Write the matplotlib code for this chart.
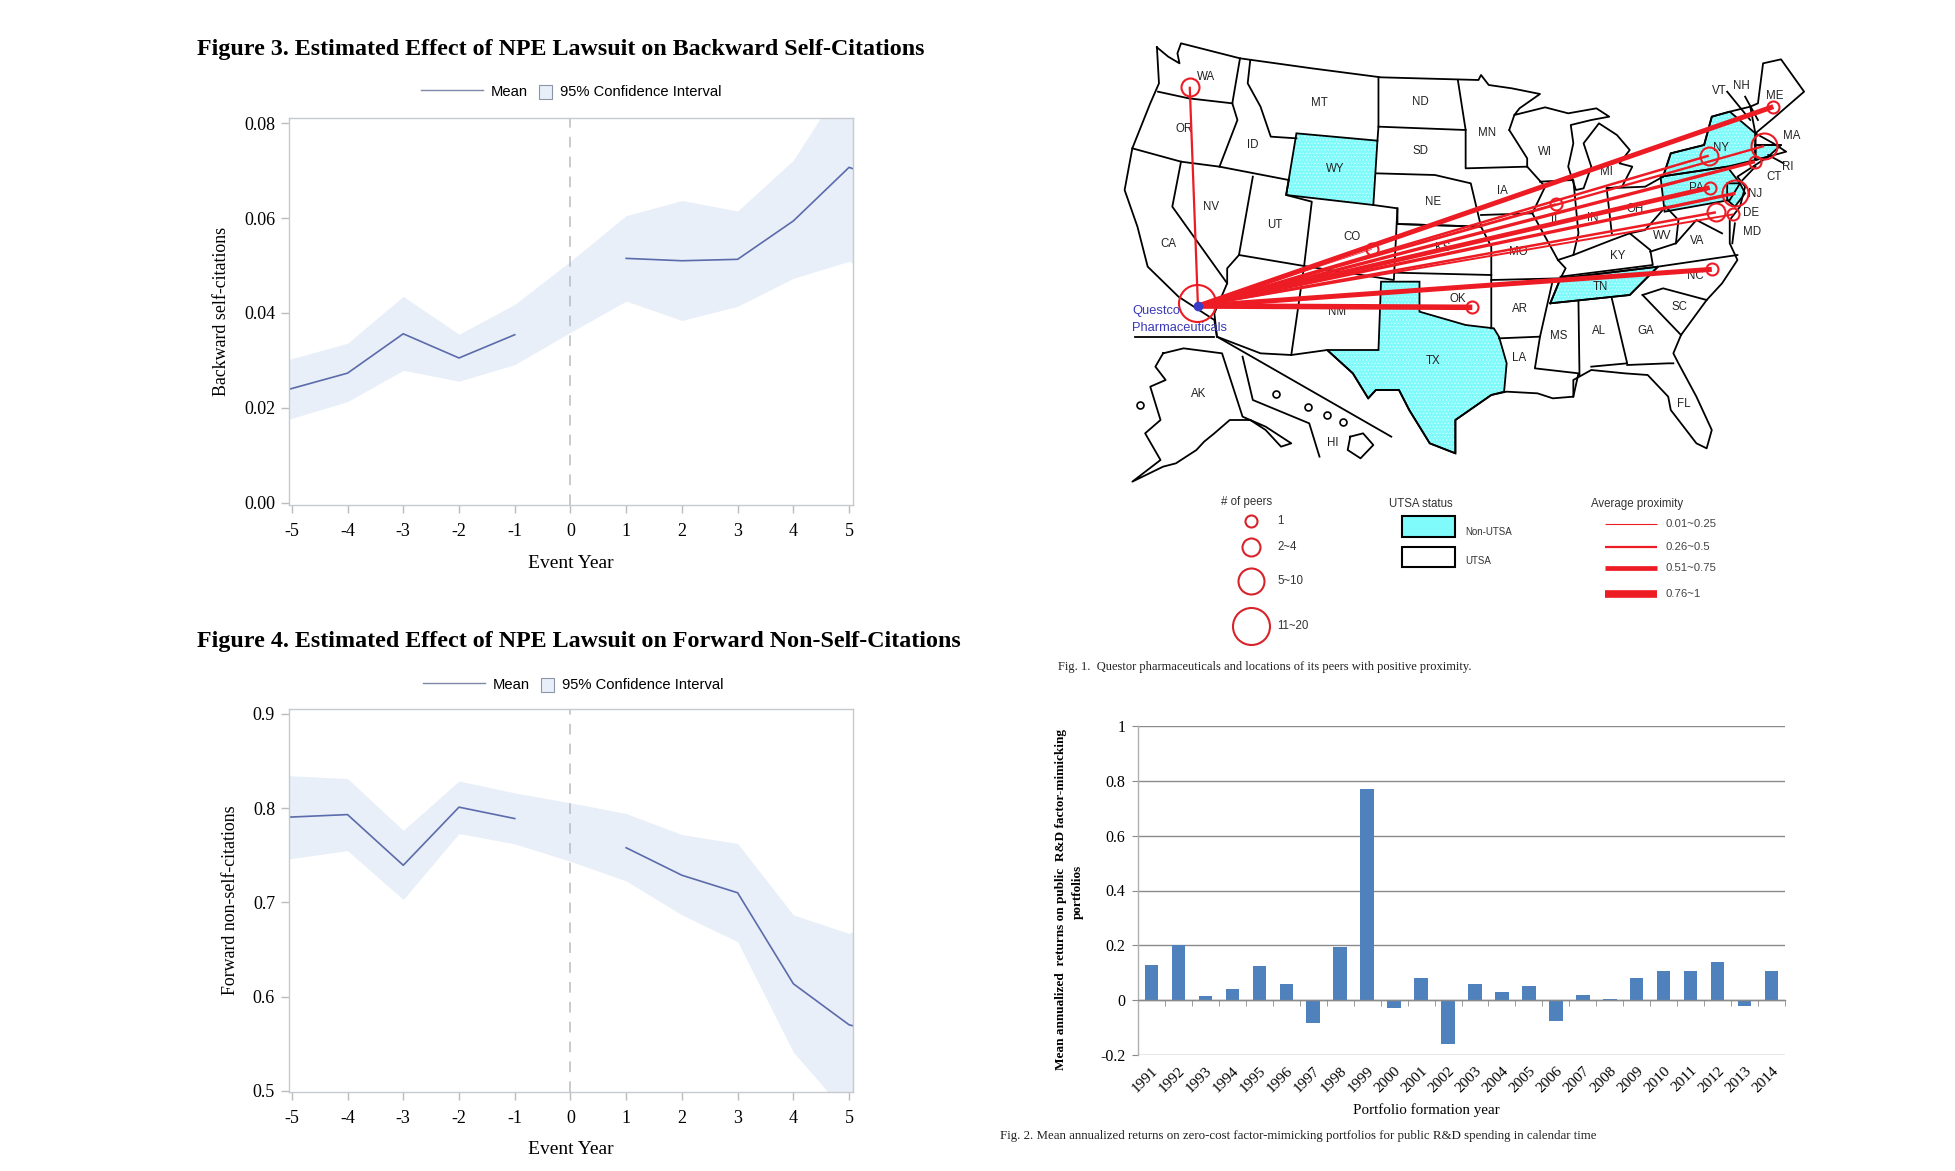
import matplotlib
matplotlib.use('Agg')
import matplotlib.pyplot as plt
from matplotlib.lines import Line2D
from matplotlib.patches import Polygon, Rectangle

W, H = 1955, 1171
SERIF = 'Liberation Serif'
SANS = 'Liberation Sans'

# Figure 3
years_3 = [-5.05, -4, -3, -2, -1, 0, 1, 2, 3, 4, 5, 5.07]
upper_3 = [0.0302, 0.0336, 0.0435, 0.0355, 0.0418, 0.0509, 0.0605, 0.0637, 0.0615, 0.0722, 0.0905, 0.0915]
lower_3 = [0.0176, 0.0213, 0.0279, 0.0256, 0.0291, 0.0359, 0.0425, 0.0384, 0.0414, 0.0473, 0.0509, 0.0505]
pre_x = [-5.05, -4, -3, -2, -1]
post_x = [1, 2, 3, 4, 5, 5.07]
pre_3 = [0.0239, 0.0273, 0.0356, 0.0305, 0.0354]
post_3 = [0.0515, 0.0510, 0.0513, 0.0594, 0.0707, 0.0704]

# Figure 4
upper_4 = [0.8345, 0.8315, 0.7765, 0.8288, 0.8163, 0.8057, 0.7943, 0.7720, 0.7625, 0.6867, 0.667, 0.669]
lower_4 = [0.7462, 0.7549, 0.7031, 0.7731, 0.7621, 0.7436, 0.7228, 0.6867, 0.6583, 0.541, 0.473, 0.47]
pre_4 = [0.7905, 0.7932, 0.7394, 0.8011, 0.789]
post_4 = [0.758, 0.7288, 0.7102, 0.6136, 0.570, 0.569]

# Fig. 2 bars
bar_years = list(range(1991, 2015))
bar_values = [0.13, 0.2, 0.015, 0.04, 0.125, 0.06, -0.085, 0.195, 0.77, -0.028, 0.082, -0.16,
              0.058, 0.03, 0.05, -0.075, 0.018, 0.004, 0.08, 0.108, 0.108, 0.14, -0.02, 0.105]

# Map, all in the map axes' own units
outline = [(228,82),(250,110),(272,130),(268,100),(275,70),(390,115),(530,145),(665,172),(855,180),(860,165),
           (875,195),(920,205),(975,222),(935,265),(925,285),(985,262),(1030,280),(1085,265),(1110,290),(1075,300),
           (1035,315),(1040,370),(1030,440),(1045,510),(1060,505),(1075,440),(1060,370),(1090,310),(1125,345),(1150,390),
           (1130,430),(1155,440),(1135,500),(1105,505),(1180,500),(1215,470),(1230,400),(1295,375),(1310,290),(1345,275),
           (1385,260),(1400,250),(1410,130),(1445,118),(1490,215),(1430,295),(1395,340),(1430,370),(1455,395),(1420,410),
           (1360,470),(1375,500),(1365,560),(1345,600),(1345,670),(1360,720),(1330,790),(1300,840),(1250,945),(1235,1000),
           (1245,1030),(1280,1130),(1310,1230),(1300,1285),(1280,1270),(1230,1170),(1225,1130),(1185,1065),(1140,1060),(1075,1050),
           (1040,1080),(1040,1130),(1000,1135),(970,1120),(910,1115),(880,1125),(810,1200),(810,1300),(760,1270),(720,1170),
           (700,1110),(655,1110),(640,1135),(610,1060),(560,990),(490,1005),(430,1000),(345,950),(340,900),(270,830),
           (210,740),(190,620),(165,510),(180,385),(215,250),(232,190),(228,82)]
borders = [
    [(230,215),(290,235),(375,250)], [(390,115),(375,250),(385,300),(350,440)],
    [(180,385),(275,425),(350,440),(485,480)], [(410,120),(405,190),(430,260),(450,350),(500,355)],
    [(275,425),(258,560),(365,790),(340,880),(345,950)], [(415,470),(388,705),(365,745),(365,790)],
    [(388,705),(515,738)], [(515,738),(490,1005)], [(485,480),(480,525),(530,545),(515,738)],
    [(660,172),(660,320),(658,362)], [(660,320),(830,330)], [(815,182),(830,330),(830,445),(950,440)],
    [(655,460),(770,465),(840,490),(860,620)], [(650,555),(697,565),(697,612),(860,620)], [(860,585),(960,580)],
    [(950,440),(985,500),(960,580),(1010,720),(1025,745),(1015,775),(880,780)], [(915,330),(950,415),(950,440)],
    [(925,285),(915,330)], [(697,565),(690,780),(515,738)], [(697,612),(860,620),(880,680),(880,925)], [(692,758),(880,765)],
    [(895,955),(975,950),(1000,780)], [(975,950),(965,1045),(1050,1060),(1040,1130)], [(995,850),(1150,825),(1205,740),(1045,770),(1015,775),(995,850)],
    [(1050,845),(1052,1065)], [(1115,835),(1145,1030),(1075,1040)], [(1145,1035),(1225,1030),(1235,1030)],
    [(1175,825),(1215,805),(1300,840)], [(1175,825),(1250,945)], [(1205,740),(1360,705)], [(1015,770),(1195,735),(1190,690),(1150,640),(1115,660),(1040,705),(1010,720)],
    [(975,485),(1040,480),(1050,640),(1040,705)], [(1105,505),(1115,640)], [(1220,560),(1180,630),(1150,640)],
    [(1220,560),(1245,600),(1240,670),(1190,695)], [(1240,670),(1280,600),(1330,640)],
    [(1385,260),(1395,340),(1395,420)], [(1395,375),(1445,375)], [(1395,420),(1420,410)],
    [(1340,215),(1385,300)], [(1375,230),(1400,300)], [(1420,405),(1450,430)], [(1395,440),(1370,480)], [(1355,610),(1350,670)],
    [(345,950),(685,1250)], [(395,1010),(415,1140),(525,1210),(545,1310)],
    [(185,950),(340,950)],
]
alaska = [(240,1000),(280,985),(355,1000),(395,1190),(440,1220),(490,1270),(470,1280),(440,1230),(410,1200),(370,1200),(340,1240),(320,1265),(305,1290),(265,1330),(240,1340),(180,1385),
          (235,1320),(205,1240),(235,1200),(215,1100),(245,1080),(225,1040),(240,1000)]
hawaii = [(605,1250),(630,1240),(650,1275),(625,1315),(600,1290),(605,1250)]
island_x = [460, 522, 560, 590, 195]
island_y = [1122, 1160, 1185, 1205, 1155]
cyan_states = {
    'WY': [(500,340),(658,362),(650,555),(480,525)],
    'TX': [(665,785),(740,785),(740,875),(830,915),(885,925),(895,950),(910,1030),(905,1115),(880,1125),(810,1200),(810,1300),
           (760,1270),(720,1170),(700,1110),(655,1110),(640,1135),(610,1060),(560,990),(660,990)],
    'TN': [(995,850),(1150,825),(1205,740),(1045,770),(1015,775)],
    'NY': [(1230,400),(1295,375),(1310,290),(1345,275),(1395,340),(1395,420),(1340,440),(1210,470),(1215,470)],
    'PA': [(1210,470),(1340,440),(1365,490),(1345,540),(1218,575)],
    'MA': [(1395,375),(1445,375),(1420,410),(1395,420)],
    'NJ': [(1340,490),(1365,490),(1375,520),(1355,560),(1340,540)],
}
state_names = ['WA','OR','ID','MT','WY','ND','SD','NE','MN','IA','WI','MI','IL','IN','OH','NV','CA','UT','CO','KS','MO','KY',
               'WV','VA','NM','OK','AR','TN','NC','SC','MS','AL','GA','LA','TX','FL','AK','HI','NY','PA','VT','NH','ME','MA','RI','CT','NJ','DE','MD']
state_x = [324,282,415,545,575,742,742,766,872,902,985,1105,1005,1078,1160,333,250,457,608,786,932,1126,
           1213,1282,580,815,935,1092,1278,1247,1012,1090,1182,935,766,1255,310,570,1328,1280,1325,1367,1432,1465,1458,1431,1395,1387,1388]
state_y = [172,328,375,250,447,247,393,546,338,514,397,455,600,595,567,560,673,614,651,684,697,708,
           649,662,875,836,866,800,768,862,947,933,932,1013,1024,1152,1122,1268,384,503,212,198,228,349,441,470,523,580,637]
origin = (308, 858)
peer_x = [292,647,1006,1304,1306,1412,1394,1356,1318,1352,1310,1430,843]
peer_y = [200,688,552,407,503,378,425,520,577,583,748,260,862]
peer_size = [18,12,12,18,12,26,12,26,18,12,12,12,12]
peer_width = [1.6,0.5,1.3,1.8,3.4,1.7,2.4,2.4,1.8,1.4,3.6,3.6,4.0]
legend_peer = ['1','2~4','5~10','11~20']
legend_peer_y = [122,200,302,437]
legend_peer_size = [12,18,26,37]
legend_prox = ['0.01~0.25','0.26~0.5','0.51~0.75','0.76~1']
legend_prox_y = [132,202,265,341]
legend_prox_width = [0.8,1.6,3.4,5.5]

plt.rcParams['font.family'] = SERIF
plt.rcParams['axes.linewidth'] = 1.0
plt.rcParams['axes.unicode_minus'] = False
plt.rcParams['hatch.linewidth'] = 0.5
fig = plt.figure(figsize=(W / 100, H / 100), dpi=100)


def px_axes(left, top, right, bottom):
    return fig.add_axes([left / W, 1 - bottom / H, (right - left) / W, (bottom - top) / H])


def fx(v):
    return v / W


def fy(v):
    return 1 - v / H


def event_panel(box, upper, lower, pre, post, ylim, yticks, fmt, ylabel, lx, ly, xpad):
    ax = px_axes(*box)
    band = '#e8eff8'
    ax.fill_between(years_3, lower, upper, color=band, lw=0)
    ax.plot(pre_x, pre, color='#5b6bab', lw=1.2)
    ax.plot(post_x, post, color='#5b6bab', lw=1.2)
    ax.axvline(0, color='#b9bcc0', lw=1.1, dashes=(7, 6))
    ax.set_xlim(-5.05, 5.07)
    ax.set_ylim(*ylim)
    ax.set_xticks(range(-5, 6))
    ax.set_yticks(yticks)
    ax.set_yticklabels([fmt % v for v in yticks])
    ax.tick_params(labelsize=13, color='#b9bcc0', length=6, width=1, pad=4)
    ax.tick_params(axis='x', pad=7)
    for s in ax.spines.values():
        s.set_color('#c6c9cd')
    ax.set_xlabel('Event Year', fontsize=14, labelpad=xpad)
    ax.set_ylabel(ylabel, fontsize=12.9, labelpad=10)
    # SAS-style legend row above the panel
    fig.add_artist(Line2D([fx(lx), fx(lx + 62)], [fy(ly - 2), fy(ly - 2)], color='#7f88a8', lw=1))
    fig.text(fx(lx + 70), fy(ly), 'Mean', family=SANS, fontsize=10.6, va='center')
    fig.add_artist(Rectangle((fx(lx + 118), fy(ly + 7)), 13 / W, 14 / H, transform=fig.transFigure,
                             facecolor=band, edgecolor='#8d94a8', lw=0.8))
    fig.text(fx(lx + 139), fy(ly), '95% Confidence Interval', family=SANS, fontsize=10.6, va='center')
    return ax


event_panel((289, 118, 853, 505), upper_3, lower_3, pre_3, post_3, (-0.0005, 0.0811),
            [0, 0.02, 0.04, 0.06, 0.08], '%.2f', 'Backward self-citations', 421, 92, 11)
event_panel((289, 709, 853, 1092), upper_4, lower_4, pre_4, post_4, (0.4987, 0.9053),
            [0.5, 0.6, 0.7, 0.8, 0.9], '%.1f', 'Forward non-self-citations', 423, 685, 10)

fig.text(fx(197), fy(50), 'Figure 3. Estimated Effect of NPE Lawsuit on Backward Self-Citations',
         fontsize=17.3, fontweight='bold', va='center')
fig.text(fx(197), fy(642), 'Figure 4. Estimated Effect of NPE Lawsuit on Forward Non-Self-Citations',
         fontsize=17.3, fontweight='bold', va='center')

# Map and its legends
m = px_axes(1040, 20, 1840, 680)
m.set_xlim(0, 1560)
m.set_ylim(1980, 0)
m.axis('off')
for name, pts in cyan_states.items():
    m.add_patch(Polygon(pts, closed=True, facecolor='#7ffbfb', edgecolor='#d8ffff', hatch='.....', lw=0, zorder=1))
    m.add_patch(Polygon(pts, closed=True, fill=False, edgecolor='black', lw=1.3, zorder=2))
for line in [outline, alaska, hawaii] + borders:
    m.plot([p[0] for p in line], [p[1] for p in line], color='black', lw=1.3, zorder=2)
m.plot(island_x, island_y, 'o', ms=5, mfc='none', mec='black', mew=1.2, zorder=2)
for x, y, name in zip(state_x, state_y, state_names):
    m.text(x, y, name, family=SANS, fontsize=8.3, color='#222222', ha='center', va='center', zorder=3)
for x, y, lw in zip(peer_x, peer_y, peer_width):
    m.plot([origin[0], x], [origin[1], y], color='#ed1c24', lw=lw, zorder=4, solid_capstyle='butt')
for x, y, d in zip(peer_x, peer_y, peer_size):
    m.plot(x, y, 'o', ms=d * 0.72, mfc='none', mec='#ed1c24', mew=1.5, zorder=5)
m.plot(307, 850, 'o', ms=37 * 0.72, mfc='none', mec='#ed1c24', mew=1.5, zorder=5)
m.plot(*origin, 'o', ms=6, color='#3b3bc8', zorder=6)
m.text(180, 873, 'Questco', family=SANS, fontsize=9.3, color='#3a3ab8', va='center', zorder=6)
m.text(180, 925, 'Pharmaceuticals', family=SANS, fontsize=9.3, color='#3a3ab8', va='center', zorder=6)

OFF = 1380
m.text(402, OFF + 65, '# of peers', family=SANS, fontsize=8.3, ha='center', va='center', color='#333333')
for label, y, d in zip(legend_peer, legend_peer_y, legend_peer_size):
    m.plot(411, OFF + y, 'o', ms=d * 0.72, mfc='none', mec='#d8232a', mew=1.5)
    m.text(463, OFF + y, label, family=SANS, fontsize=8.3, va='center', color='#333333')
m.text(743, OFF + 72, 'UTSA status', family=SANS, fontsize=8.3, ha='center', va='center', color='#333333')
m.add_patch(Rectangle((705, OFF + 108), 105, 62, facecolor='#7ffbfb', edgecolor='black', lw=1.5))
m.add_patch(Rectangle((705, OFF + 202), 105, 58, facecolor='white', edgecolor='black', lw=1.5))
m.text(830, OFF + 155, 'Non-UTSA', family=SANS, fontsize=7, va='center', color='#333333')
m.text(830, OFF + 242, 'UTSA', family=SANS, fontsize=7, va='center', color='#333333')
m.text(1075, OFF + 72, 'Average proximity', family=SANS, fontsize=8.3, va='center', color='#333333')
for label, y, lw in zip(legend_prox, legend_prox_y, legend_prox_width):
    m.plot([1102, 1203], [OFF + y, OFF + y], color='#ed1c24', lw=lw, solid_capstyle='butt')
    m.text(1220, OFF + y, label, family=SANS, fontsize=8.2, va='center', color='#444444')
m.text(35, OFF + 560, 'Fig. 1.  Questor pharmaceuticals and locations of its peers with positive proximity.',
       fontsize=9, va='center', color='#222222')

# Bars
ax = px_axes(1138, 726, 1785, 1055)
x = list(range(len(bar_years)))
ax.bar(x, bar_values, width=0.5, color='#4f81bd')
ax.set_xlim(-0.5, 23.5)
ax.set_ylim(-0.2, 1)
ax.set_yticks([-0.2, 0, 0.2, 0.4, 0.6, 0.8, 1])
ax.set_yticklabels(['-0.2', '0', '0.2', '0.4', '0.6', '0.8', '1'])
ax.yaxis.grid(True, color='#8a8a8a', lw=1)
ax.set_axisbelow(True)
ax.spines['top'].set_visible(False)
ax.spines['right'].set_visible(False)
ax.spines['bottom'].set_position(('data', 0))
ax.spines['bottom'].set_color('#8a8a8a')
ax.spines['left'].set_color('#b0b0b0')
ax.set_xticks(x)
ax.set_xticklabels(bar_years, rotation=45, ha='right', rotation_mode='anchor', fontsize=11)
ax.tick_params(axis='x', which='major', length=0, pad=46)
ax.set_xticks([i - 0.5 for i in range(25)], minor=True)
ax.tick_params(axis='x', which='minor', length=4, color='#8a8a8a')
ax.tick_params(axis='y', length=4, color='#8a8a8a', labelsize=11.5, pad=5)
fig.text(fx(1426), fy(1110), 'Portfolio formation year', fontsize=10.8, ha='center', va='center')
fig.text(fx(1061), fy(899), 'Mean annualized  returns on public  R&D factor-mimicking', fontsize=9.5,
         fontweight='bold', rotation=90, ha='center', va='center')
fig.text(fx(1078), fy(892), 'portfolios', fontsize=9.5, fontweight='bold', rotation=90, ha='center', va='center')
fig.text(fx(1000), fy(1136), 'Fig. 2. Mean annualized returns on zero-cost factor-mimicking portfolios for public R&D spending in calendar time',
         fontsize=9.3, va='center', color='#222222')

fig.savefig('out.png', dpi=100)
